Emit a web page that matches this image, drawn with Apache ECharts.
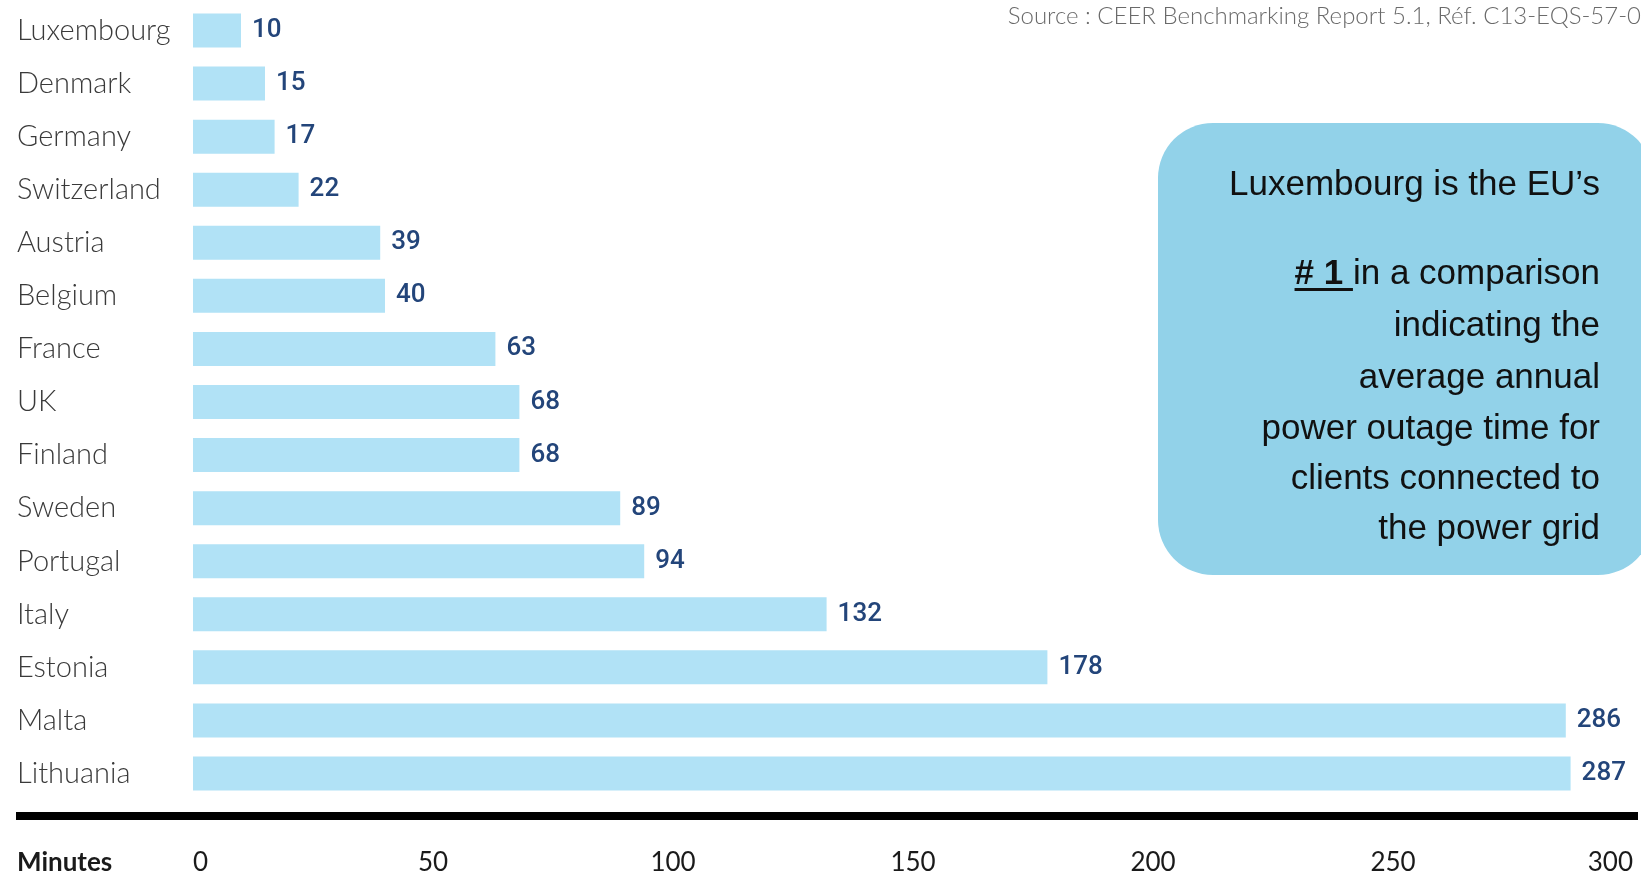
<!DOCTYPE html>
<html>
<head>
<meta charset="utf-8">
<script src="https://cdn.jsdelivr.net/npm/echarts@6/dist/echarts.min.js"></script>
<style>
html,body{margin:0;padding:0;background:#fff;}
#chart{width:1641px;height:877px;}
</style>
</head>
<body>
<div id="chart"></div>
<script>
const categories = ['Luxembourg','Denmark','Germany','Switzerland','Austria','Belgium','France','UK','Finland','Sweden','Portugal','Italy','Estonia','Malta','Lithuania'];
const values = [10,15,17,22,39,40,63,68,68,89,94,132,178,286,287];
const xTickValues = [0,50,100,150,200,250,300];
const axisTitle = 'Minutes';
const sourceText = 'Source : CEER Benchmarking Report 5.1, Réf. C13-EQS-57-0';
const boxLine1 = 'Luxembourg is the EU\u2019s';
const boxRankText = '# 1 ';
const boxLines = ['in a comparison','indicating the','average annual','power outage time for','clients connected to','the power grid'];

const chart = echarts.init(document.getElementById('chart'), null, {renderer:'canvas'});

const boxFont = '"Liberation Sans", Arial, sans-serif';
const boxSize = 35;
const ctx = document.createElement('canvas').getContext('2d');
ctx.font = boxSize + 'px ' + boxFont;
const wRest = ctx.measureText(boxLines[0]).width;
ctx.font = 'bold ' + boxSize + 'px ' + boxFont;
const wRank = ctx.measureText(boxRankText).width;

const textRight = 1600;
const lineYs = [185, 274, 326, 378, 429, 479, 529];

const graphics = [
  {type:'rect', shape:{x:16,y:812,width:1622,height:8}, style:{fill:'#000'}},
  {type:'text', x:17, y:863, style:{text:axisTitle, font:'bold 26px Lato, sans-serif', fill:'#1a1a1a', textVerticalAlign:'middle'}},
  {type:'text', x:1641, y:16, style:{text:sourceText, font:'300 24px Lato, sans-serif', fill:'#6a6a6a', textAlign:'right', textVerticalAlign:'middle'}},
  {type:'rect', shape:{x:1158,y:123,width:495,height:452,r:55}, style:{fill:'#92d2e9'}},
  {type:'text', x:textRight, y:lineYs[0], style:{text:boxLine1, font:boxSize+'px '+boxFont, fill:'#111', textAlign:'right', textVerticalAlign:'middle'}},
  {type:'text', x:textRight - wRest, y:lineYs[1], style:{text:boxRankText, font:'bold '+boxSize+'px '+boxFont, fill:'#111', textAlign:'right', textVerticalAlign:'middle'}},
  {type:'rect', shape:{x:textRight - wRest - wRank, y:lineYs[1]+14, width:wRank, height:3}, style:{fill:'#111'}}
];
boxLines.forEach((t,i)=>{
  graphics.push({type:'text', x:textRight, y:lineYs[i+1], style:{text:t, font:boxSize+'px '+boxFont, fill:'#111', textAlign:'right', textVerticalAlign:'middle'}});
});

chart.setOption({
  animation:false,
  backgroundColor:'#fff',
  grid:{left:193, right:8, top:4, bottom:77, containLabel:false},
  xAxis:{
    type:'value', min:xTickValues[0], max:xTickValues[xTickValues.length-1], interval:xTickValues[1]-xTickValues[0],
    axisLine:{show:false}, axisTick:{show:false}, splitLine:{show:false},
    axisLabel:{margin:50, fontFamily:'Lato, sans-serif', fontSize:26, color:'#1a1a1a', alignMinLabel:'left', alignMaxLabel:'right'}
  },
  yAxis:{
    type:'category', data:categories, inverse:true,
    axisLine:{show:false}, axisTick:{show:false},
    axisLabel:{align:'left', margin:176, fontFamily:'Lato, sans-serif', fontWeight:300, fontSize:29, color:'#3a3a3a'}
  },
  series:[{
    type:'bar', data:values, barWidth:34,
    itemStyle:{color:'#b1e2f6'},
    label:{show:true, position:'right', distance:11, color:'#23457a', fontFamily:'Roboto, sans-serif', fontWeight:500, fontSize:26}
  }],
  graphic:graphics
});
</script>
</body>
</html>
